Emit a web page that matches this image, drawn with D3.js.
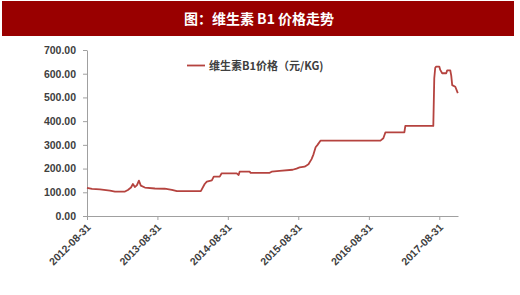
<!DOCTYPE html>
<html><head><meta charset="utf-8">
<script src="https://cdn.jsdelivr.net/npm/d3@7/dist/d3.min.js"></script>
<style>body{margin:0;background:#fff;}svg{display:block;}</style>
</head><body>
<svg id="c" width="520" height="295"></svg>
<script>
const titleText = "图：维生素 B1 价格走势";
const seriesName = "维生素B1价格（元/KG)";
const dates = ["2012-08-31","2012-09-26","2012-11-06","2012-12-28","2013-01-23","2013-03-16","2013-03-31","2013-04-16","2013-04-26","2013-05-06","2013-05-17","2013-05-27","2013-06-06","2013-06-27","2013-08-18","2013-10-08","2013-11-14","2013-12-10","2014-04-13","2014-05-03","2014-05-14","2014-06-09","2014-06-19","2014-07-20","2014-07-30","2014-10-16","2014-10-26","2014-10-31","2014-12-22","2014-12-27","2015-04-05","2015-04-15","2015-05-26","2015-08-02","2015-08-22","2015-09-07","2015-10-03","2015-10-23","2015-11-08","2015-11-18","2015-11-29","2015-12-09","2015-12-25","2016-10-30","2016-11-14","2016-11-25","2017-03-03","2017-03-08","2017-07-31","2017-08-05","2017-08-10","2017-08-15","2017-08-31","2017-09-05","2017-09-15","2017-10-06","2017-10-11","2017-10-27","2017-11-01","2017-11-06","2017-11-22","2017-12-05"];
const prices = [119,114,112,107,103,103,110,120,135,122,130,149,128,120,116,115,110,105,105,135,145,150,166,166,180,180,173,187,187,182,182,187,190,195,200,205,208,218,240,260,290,300,318,318,328,353,353,380,380,581,625,630,630,616,602,602,614,614,592,552,545,518];
const yTicks = [0,100,200,300,400,500,600,700];
const xTickLabels = ["2012-08-31","2013-08-31","2014-08-31","2015-08-31","2016-08-31","2017-08-31"];

const parse = d3.timeParse("%Y-%m-%d");
const data = dates.map((d,i)=>({date:parse(d), v:prices[i]}));
const svg = d3.select("#c");
const font = "'Liberation Sans', Arial, sans-serif";

// title band
svg.append("rect").attr("x",2).attr("y",1).attr("width",512).attr("height",35).attr("fill","#990000");
svg.append("text").attr("x",259).attr("y",23.5).attr("text-anchor","middle")
  .attr("fill","#fff").attr("font-family","'Noto Sans CJK SC', 'DejaVu Serif', serif").attr("font-weight","bold")
  .attr("font-size",14).text(titleText);

const x = d3.scaleTime().domain([parse("2012-08-31"), parse("2017-12-06")]).range([87, 458]);
const y = d3.scaleLinear().domain([0,700]).range([216, 50]);

// y axis
const ya = svg.append("g").attr("transform","translate(87,0)")
  .call(d3.axisLeft(y).tickValues(yTicks).tickFormat(d3.format(".2f")).tickSize(4).tickSizeOuter(0));
ya.select(".domain").attr("stroke","#a0a0a0");
ya.selectAll(".tick line").attr("stroke","#a0a0a0");
ya.selectAll("text").attr("font-family",font).attr("font-weight","bold").attr("font-size",10.5)
  .attr("fill","#404040").attr("x",-11);

// x axis
const xa = svg.append("g").attr("transform","translate(0,216)")
  .call(d3.axisBottom(x).tickValues(xTickLabels.map(parse)).tickFormat(d3.timeFormat("%Y-%m-%d")).tickSize(4).tickSizeOuter(0));
xa.select(".domain").attr("stroke","#a0a0a0");
xa.selectAll(".tick line").attr("stroke","#a0a0a0");
xa.selectAll("text").attr("font-family",font).attr("font-weight","bold").attr("font-size",10.5)
  .attr("fill","#404040").attr("text-anchor","end").attr("dy",0).attr("y",0)
  .attr("transform","translate(4,12) rotate(-45)");

// line
svg.append("path").datum(data).attr("fill","none").attr("stroke","#b5433f").attr("stroke-width",1.8)
  .attr("stroke-linejoin","round")
  .attr("d", d3.line().x(d=>x(d.date)).y(d=>y(d.v)));

// legend
svg.append("line").attr("x1",187).attr("x2",205).attr("y1",65.5).attr("y2",65.5).attr("stroke","#b5433f").attr("stroke-width",1.8);
svg.append("text").attr("x",209).attr("y",69.5).attr("font-family","'Noto Sans CJK SC', sans-serif")
  .attr("font-weight","bold").attr("font-size",11).attr("fill","#404040").text(seriesName);
</script>
</body></html>
